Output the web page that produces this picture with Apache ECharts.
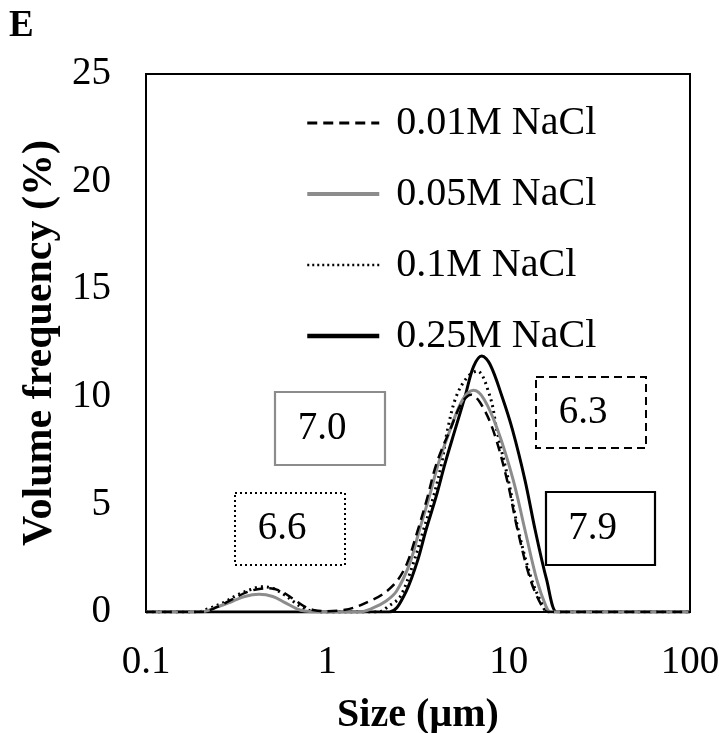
<!DOCTYPE html>
<html>
<head>
<meta charset="utf-8">
<script src="https://cdn.jsdelivr.net/npm/echarts@6/dist/echarts.min.js"></script>
<style>html,body{margin:0;padding:0;background:#fff;}#c{width:719px;height:733px;}</style>
</head>
<body>
<div id="c"></div>
<script>
// ---- data ----
const seriesNames = ['0.01M NaCl', '0.05M NaCl', '0.1M NaCl', '0.25M NaCl'];

const size001 = [0.1, 0.2, 0.25, 0.3, 0.36, 0.42, 0.48, 0.56, 0.65, 0.75, 0.85, 1.0, 1.2, 1.4, 1.7, 2.0, 2.4, 2.75, 3.1, 3.53, 4.0, 4.75, 5.5, 6.2, 7.0, 8.2, 9.8, 11.2, 13.2, 15.3, 16.5, 20, 100];
const vol001  = [0, 0, 0.25, 0.6, 0.92, 1.07, 1.1, 0.95, 0.6, 0.25, 0.08, 0.04, 0.08, 0.2, 0.5, 0.8, 1.4, 2.26, 3.6, 5.2, 6.9, 8.46, 9.7, 10.1, 9.7, 8.46, 6.13, 3.81, 1.49, 0.25, 0, 0, 0];

const size005 = [0.1, 0.2, 0.25, 0.3, 0.35, 0.42, 0.5, 0.58, 0.68, 0.75, 0.9, 1.5, 1.8, 2.1, 2.4, 2.85, 3.22, 3.65, 4.1, 4.75, 5.6, 6.4, 7.3, 8.7, 10.6, 12.3, 14.3, 16.0, 17.0, 20, 100];
const vol005  = [0, 0, 0.25, 0.5, 0.72, 0.82, 0.72, 0.45, 0.15, 0.05, 0, 0, 0.2, 0.5, 0.95, 2.26, 3.81, 5.36, 6.91, 8.46, 9.9, 10.3, 9.9, 8.46, 6.13, 3.81, 1.49, 0.3, 0, 0, 0];

const size01 = [0.1, 0.19, 0.22, 0.27, 0.32, 0.38, 0.43, 0.5, 0.58, 0.66, 0.75, 0.85, 1.0, 1.9, 2.2, 2.52, 2.98, 3.39, 3.85, 4.27, 4.6, 5.13, 5.9, 6.7, 7.9, 8.6, 9.96, 11.3, 13.4, 15.5, 16.2, 20, 100];
const vol01  = [0, 0, 0.15, 0.45, 0.8, 1.05, 1.17, 1.1, 0.8, 0.45, 0.15, 0.03, 0, 0, 0.3, 0.71, 2.26, 3.81, 5.36, 6.91, 8.46, 10.0, 10.9, 11.2, 10.0, 8.46, 6.13, 3.81, 1.49, 0.25, 0, 0, 0];

const size025 = [0.1, 1.0, 2.2, 2.63, 3.11, 3.5, 3.98, 4.46, 5.06, 5.74, 6.4, 7.1, 7.9, 9.2, 10.5, 12.3, 14.0, 16.2, 18.4, 20, 100];
const vol025  = [0, 0, 0, 0.71, 2.26, 3.81, 5.36, 6.91, 8.46, 10.0, 11.4, 11.9, 11.5, 10.0, 8.46, 6.13, 3.81, 1.49, 0, 0, 0];

const yTicks = [0, 5, 10, 15, 20, 25];
const xTicks = [0.1, 1, 10, 100];

// annotation boxes: label text
const boxLabels = ['6.3', '7.0', '6.6', '7.9'];

// ---- chart ----
const FONT = "'Liberation Serif', 'Times New Roman', serif";
const pairs = (xs, ys) => xs.map((x, i) => [x, ys[i]]);

const styles = [
  { color: '#000', width: 2.5, type: [10, 6] },
  { color: '#8c8c8c', width: 3, type: 'solid' },
  { color: '#000', width: 3, type: [2, 4] },
  { color: '#000', width: 3, type: 'solid' }
];
const legendWidths = [3, 4, 2.5, 4.5];
const datasets = [pairs(size001, vol001), pairs(size005, vol005), pairs(size01, vol01), pairs(size025, vol025)];

const chart = echarts.init(document.getElementById('c'));

function box(x, y, w, h, label, st) {
  return {
    type: 'group',
    children: [
      { type: 'rect', shape: { x: x, y: y, width: w, height: h },
        style: { fill: 'none', stroke: st.color, lineWidth: st.width === 3 && !Array.isArray(st.type) ? 2.2 : 2, lineDash: Array.isArray(st.type) ? (st.type[0] < 5 ? [2, 3] : [8, 5]) : null } },
      { type: 'text', x: x + w / 2 - 8, y: y + h / 2,
        style: { text: label, font: "39px " + FONT, fill: '#000', textAlign: 'center', textVerticalAlign: 'middle' } }
    ]
  };
}

chart.setOption({
  animation: false,
  backgroundColor: '#fff',
  grid: { left: 146, right: 29, top: 74, bottom: 121, show: true, borderColor: '#000', borderWidth: 2, backgroundColor: 'transparent', outerBoundsMode: 'none', containLabel: false },
  legend: {
    orient: 'vertical', left: 300, top: 98,
    itemWidth: 72, itemHeight: 20, itemGap: 31,
    data: seriesNames.map((n, i) => ({
      name: n,
      itemStyle: { opacity: 0 },
      lineStyle: { color: styles[i].color, width: legendWidths[i], type: i === 2 ? [2, 3] : styles[i].type }
    })),
    itemStyle: { opacity: 0 },
    textStyle: { fontFamily: FONT, fontSize: 40, color: '#000', padding: [0, 0, 0, 12] }
  },
  xAxis: {
    type: 'log', logBase: 10, min: 0.1, max: 100,
    name: 'Size (µm)', nameLocation: 'middle', nameGap: 84,
    nameTextStyle: { fontFamily: FONT, fontSize: 40, fontWeight: 'bold', color: '#000' },
    axisLine: { show: true, lineStyle: { color: '#000', width: 2 } },
    axisTick: { show: false },
    splitLine: { show: false },
    axisLabel: { fontFamily: FONT, fontSize: 39, color: '#000', margin: 31,
      formatter: v => { const t = xTicks.find(k => Math.abs(k - v) / k < 1e-6); return t === undefined ? '' : String(t); } }
  },
  yAxis: {
    type: 'value', min: 0, max: 25, interval: 5,
    name: 'Volume frequency (%)', nameLocation: 'middle', nameGap: 73, nameRotate: 90,
    nameTextStyle: { fontFamily: FONT, fontSize: 42, fontWeight: 'bold', color: '#000' },
    axisLine: { show: true, lineStyle: { color: '#000', width: 2 } },
    axisTick: { show: false },
    splitLine: { show: false },
    axisLabel: { fontFamily: FONT, fontSize: 39, color: '#000', margin: 35,
      formatter: v => yTicks.includes(v) ? String(v) : '' }
  },
  series: seriesNames.map((n, i) => ({
    name: n, type: 'line', data: datasets[i], smooth: 0.35, showSymbol: false, symbol: 'none',
    lineStyle: { color: styles[i].color, width: styles[i].width, type: styles[i].type },
    itemStyle: { color: styles[i].color },
    z: 2 + (3 - i)
  })),
  graphic: [
    { type: 'text', left: 9, top: 8, style: { text: 'E', font: "bold 37px " + FONT, fill: '#000' } },
    box(536, 377, 110, 71, boxLabels[0], styles[0]),
    box(275, 392, 110, 73, boxLabels[1], styles[1]),
    box(235, 493, 110, 72, boxLabels[2], styles[2]),
    box(546, 492, 109, 73, boxLabels[3], styles[3])
  ]
});
</script>
</body>
</html>
